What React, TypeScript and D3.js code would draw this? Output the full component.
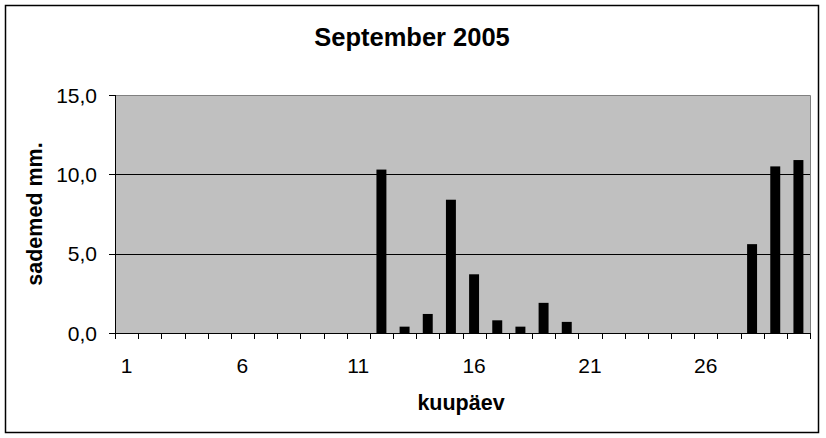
import React from "react";
import * as d3 from "d3";

const days: number[] = Array.from({ length: 30 }, (_, i) => i + 1);
const rainfall: number[] = [
  0, 0, 0, 0, 0, 0, 0, 0, 0, 0,
  0, 10.3, 0.4, 1.2, 8.4, 3.7, 0.8, 0.4, 1.9, 0.7,
  0, 0, 0, 0, 0, 0, 0, 5.6, 10.5, 10.9,
];
const yTicks: number[] = [0, 5, 10, 15];
const xLabelDays: number[] = [1, 6, 11, 16, 21, 26];
const title = "September 2005";
const xTitle = "kuupäev";
const yTitle = "sademed mm.";

const W = 826;
const H = 438;
const plot = { left: 115, right: 810, top: 95, bottom: 333 };
const font = "Arial, 'Liberation Sans', sans-serif";

export default function App() {
  const x = d3
    .scaleBand<number>()
    .domain(days)
    .range([plot.left, plot.right])
    .paddingInner(0.57)
    .paddingOuter(0.285);
  const step = (plot.right - plot.left) / days.length;
  const y = d3.scaleLinear().domain([0, 15]).range([plot.bottom, plot.top]);
  const fmt = (v: number) => v.toFixed(1).replace(".", ",");

  return (
    <svg
      width={W}
      height={H}
      style={{ position: "absolute", left: 0, top: 0, display: "block" }}
      fontFamily={font}
    >
      <rect x={0} y={0} width={W} height={H} fill="#fff" />
      <rect x={5.5} y={5.5} width={813} height={427} fill="#fff" stroke="#000" strokeWidth={1.5} />
      <text x={412} y={46} textAnchor="middle" fontSize={25.5} fontWeight="bold">
        {title}
      </text>
      <rect
        x={plot.left}
        y={plot.top}
        width={plot.right - plot.left}
        height={plot.bottom - plot.top}
        fill="#c0c0c0"
      />
      <path
        d={`M${plot.left},${plot.top + 0.5}H${plot.right + 0.5}V${plot.bottom}`}
        fill="none"
        stroke="#808080"
        strokeWidth={1}
      />
      {yTicks
        .filter((t) => t > 0 && t < 15)
        .map((t) => (
          <line
            key={"g" + t}
            x1={plot.left}
            x2={plot.right}
            y1={Math.round(y(t)) + 0.5}
            y2={Math.round(y(t)) + 0.5}
            stroke="#000"
          />
        ))}
      {days.map((d, i) =>
        rainfall[i] > 0 ? (
          <rect
            key={"b" + d}
            x={x(d)}
            y={y(rainfall[i])}
            width={x.bandwidth()}
            height={plot.bottom - y(rainfall[i])}
            fill="#000"
          />
        ) : null
      )}
      <line x1={plot.left + 0.5} x2={plot.left + 0.5} y1={plot.top} y2={plot.bottom} stroke="#000" />
      <line x1={plot.left} x2={plot.right + 1} y1={plot.bottom + 0.5} y2={plot.bottom + 0.5} stroke="#000" />
      {yTicks.map((t) => (
        <g key={"yt" + t}>
          <line
            x1={plot.left - 6}
            x2={plot.left}
            y1={Math.round(y(t)) + 0.5}
            y2={Math.round(y(t)) + 0.5}
            stroke="#000"
          />
          <text x={97} y={y(t) + 7.5} textAnchor="end" fontSize={21}>
            {fmt(t)}
          </text>
        </g>
      ))}
      {d3.range(days.length + 1).map((k) => (
        <line
          key={"xt" + k}
          x1={Math.round(plot.left + k * step) + 0.5}
          x2={Math.round(plot.left + k * step) + 0.5}
          y1={plot.bottom}
          y2={plot.bottom + 6}
          stroke="#000"
        />
      ))}
      {xLabelDays.map((d) => (
        <text
          key={"xl" + d}
          x={(x(d) as number) + x.bandwidth() / 2}
          y={372.5}
          textAnchor="middle"
          fontSize={21}
        >
          {d}
        </text>
      ))}
      <text x={461} y={410} textAnchor="middle" fontSize={21.5} fontWeight="bold">
        {xTitle}
      </text>
      <text
        transform={`translate(42,214) rotate(-90)`}
        textAnchor="middle"
        fontSize={21.5}
        fontWeight="bold"
      >
        {yTitle}
      </text>
    </svg>
  );
}
